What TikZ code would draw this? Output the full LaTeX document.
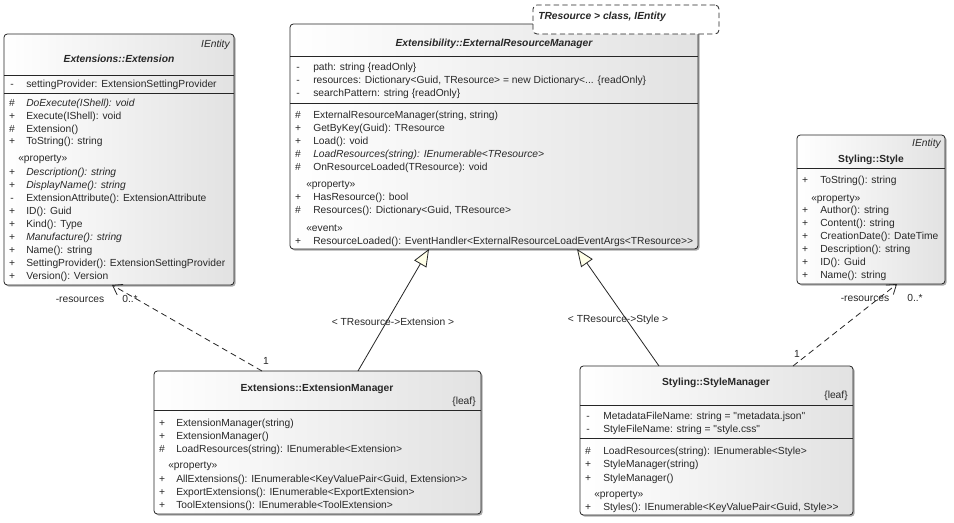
\documentclass[tikz,border=0pt]{standalone}
\usepackage{fontspec}
\setmainfont{Liberation Sans}[Ligatures=TeXOff]
\usetikzlibrary{arrows.meta,calc,shadows}
\definecolor{ivory}{RGB}{255,255,232}
\definecolor{boxgray}{RGB}{226,226,226}
\definecolor{ink}{RGB}{40,40,40}
\newcommand{\umlfont}{\fontsize{7.7}{9.2}\selectfont}
\begin{document}
\begin{tikzpicture}[x=0.75pt,y=-0.75pt,
  every node/.style={font=\umlfont, text=ink},
  cls/.style={draw=black!85, line width=0.6pt, rounded corners=2.5pt, left color=white, right color=boxgray,
    inner sep=0pt, outer sep=0pt, anchor=north west,
    drop shadow={shadow xshift=1.2pt, shadow yshift=-1.2pt, fill=black!55, opacity=0.6}},
  notebox/.style={draw=black!85, line width=0.6pt, rounded corners=3pt, fill=white, dash pattern=on 4pt off 2.5pt,
    inner sep=0pt, outer sep=0pt, anchor=north west},
  txt/.style={anchor=west, inner sep=0pt, text height=6pt, text depth=0pt},
  rtxt/.style={anchor=east, inner sep=0pt, text height=6pt, text depth=0pt},
  sym/.style={anchor=center, inner sep=0pt, text height=6pt, text depth=0pt},
  ttl/.style={anchor=center, inner sep=0pt, text height=6pt, text depth=0pt, font=\umlfont\bfseries},
  lbl/.style={anchor=center, inner sep=0pt, text height=6pt, text depth=0pt},
  sepline/.style={draw=black!85, line width=0.6pt},
  gen/.style={draw=black!85, line width=0.6pt, -{Triangle[length=13pt,width=10.5pt,fill=ivory]}},
  assoc/.style={draw=black!85, line width=0.6pt, dash pattern=on 4.5pt off 3pt, -{Straight Barb[length=6.5pt,width=9pt]}}
]
\fill[white] (0,0) rectangle (954,522);
\path[use as bounding box] (0,0) rectangle (954,522);

% ---------------- Extensions::Extension
\node[cls, minimum width=172.5pt, minimum height=188.25pt] (ext) at (4,34) {};
\node[rtxt] (ext-st) at (230,43) {\itshape IEntity};
\node[ttl] (ext-ti) at (119,58) {\itshape Extensions::Extension};
\draw[sepline] ($(ext.north west)+(0,41)$) -- ($(ext.north east)+(0,41)$);
\draw[sepline] ($(ext.north west)+(0,59)$) -- ($(ext.north east)+(0,59)$);
\node[txt] (ext-p) at (18,157) {«property»};
\foreach \s/\t/\y [count=\i] in {
  -/{settingProvider: ExtensionSettingProvider}/83,
  \#/{\textit{DoExecute(IShell): void}}/102,
  +/{Execute(IShell): void}/115,
  \#/{Extension()}/128,
  +/{ToString(): string}/140,
  +/{\textit{Description(): string}}/171,
  +/{\textit{DisplayName(): string}}/184,
  -/{ExtensionAttribute(): ExtensionAttribute}/197,
  +/{ID(): Guid}/210,
  +/{Kind(): Type}/223,
  +/{\textit{Manufacture(): string}}/236,
  +/{Name(): string}/249,
  +/{SettingProvider(): ExtensionSettingProvider}/262,
  +/{Version(): Version}/275}
{
  \node[sym] (ext-s\i) at (12,\y) {\s};
  \node[txt] (ext-t\i) at (26,\y) {\t};
}

% ---------------- Extensibility::ExternalResourceManager
\node[cls, minimum width=306pt, minimum height=168.75pt] (erm) at (290,24) {};
\node[ttl] (erm-ti) at (494,42) {\itshape Extensibility::ExternalResourceManager};
\draw[sepline] ($(erm.north west)+(0,32)$) -- ($(erm.north east)+(0,32)$);
\draw[sepline] ($(erm.north west)+(0,79)$) -- ($(erm.north east)+(0,79)$);
\node[txt] (erm-p) at (306,183) {«property»};
\node[txt] (erm-e) at (306,227) {«event»};
\foreach \s/\t/\y [count=\i] in {
  -/{path: string \{readOnly\}}/66,
  -/{resources: Dictionary<Guid, TResource> = new Dictionary<... \{readOnly\}}/79,
  -/{searchPattern: string \{readOnly\}}/92,
  \#/{ExternalResourceManager(string, string)}/114,
  +/{GetByKey(Guid): TResource}/127,
  +/{Load(): void}/140,
  \#/{\textit{LoadResources(string): IEnumerable<TResource>}}/153,
  \#/{OnResourceLoaded(TResource): void}/166,
  +/{HasResource(): bool}/196,
  \#/{Resources(): Dictionary<Guid, TResource>}/209,
  +/{ResourceLoaded(): EventHandler<ExternalResourceLoadEventArgs<TResource>>}/240}
{
  \node[sym] (erm-s\i) at (298,\y) {\s};
  \node[txt] (erm-t\i) at (313,\y) {\t};
}

% ---------------- template note
\node[notebox, minimum width=139.5pt, minimum height=21.75pt] (note) at (533,5) {};
\node[txt] (note-t) at (538,15) {\bfseries\itshape TResource > class, IEntity};

% ---------------- Styling::Style
\node[cls, minimum width=111pt, minimum height=111.75pt] (sty) at (797,135) {};
\node[rtxt] (sty-st) at (941,142) {\itshape IEntity};
\node[ttl] (sty-ti) at (871,158) {Styling::Style};
\draw[sepline] ($(sty.north west)+(0,33)$) -- ($(sty.north east)+(0,33)$);
\node[txt] (sty-p) at (811,197) {«property»};
\foreach \s/\t/\y [count=\i] in {
  +/{ToString(): string}/179,
  +/{Author(): string}/209,
  +/{Content(): string}/222,
  +/{CreationDate(): DateTime}/235,
  +/{Description(): string}/248,
  +/{ID(): Guid}/261,
  +/{Name(): string}/274}
{
  \node[sym] (sty-s\i) at (805,\y) {\s};
  \node[txt] (sty-t\i) at (820,\y) {\t};
}

% ---------------- Extensions::ExtensionManager
\node[cls, minimum width=245.25pt, minimum height=107.25pt] (em) at (154,371) {};
\node[ttl] (em-ti) at (317,387) {Extensions::ExtensionManager};
\node[rtxt] (em-leaf) at (476,400) {\{leaf\}};
\draw[sepline] ($(em.north west)+(0,39)$) -- ($(em.north east)+(0,39)$);
\node[txt] (em-p) at (168,464) {«property»};
\foreach \s/\t/\y [count=\i] in {
  +/{ExtensionManager(string)}/422,
  +/{ExtensionManager()}/435,
  \#/{LoadResources(string): IEnumerable<Extension>}/448,
  +/{AllExtensions(): IEnumerable<KeyValuePair<Guid, Extension>>}/478,
  +/{ExportExtensions(): IEnumerable<ExportExtension>}/491,
  +/{ToolExtensions(): IEnumerable<ToolExtension>}/504}
{
  \node[sym] (em-s\i) at (162,\y) {\s};
  \node[txt] (em-t\i) at (176,\y) {\t};
}

% ---------------- Styling::StyleManager
\node[cls, minimum width=204.75pt, minimum height=111.75pt] (sm) at (580,366) {};
\node[ttl] (sm-ti) at (716,381) {Styling::StyleManager};
\node[rtxt] (sm-leaf) at (848,394) {\{leaf\}};
\draw[sepline] ($(sm.north west)+(0,39)$) -- ($(sm.north east)+(0,39)$);
\draw[sepline] ($(sm.north west)+(0,72)$) -- ($(sm.north east)+(0,72)$);
\node[txt] (sm-p) at (594,493) {«property»};
\foreach \s/\t/\y [count=\i] in {
  -/{MetadataFileName: string = "metadata.json"}/415,
  -/{StyleFileName: string = "style.css"}/428,
  \#/{LoadResources(string): IEnumerable<Style>}/450,
  +/{StyleManager(string)}/463,
  +/{StyleManager()}/477,
  +/{Styles(): IEnumerable<KeyValuePair<Guid, Style>>}/506}
{
  \node[sym] (sm-s\i) at (588,\y) {\s};
  \node[txt] (sm-t\i) at (603,\y) {\t};
}

% ---------------- connectors
\draw[gen] ($(em.north west)+(204,0)$) -- ($(erm.south west)+(139,0)$);
\draw[gen] ($(sm.north west)+(79,0)$) -- ($(erm.south west)+(287,0)$);
\draw[assoc] ($(em.north west)+(108,0)$) -- ($(ext.south west)+(108,0)$);
\draw[assoc] ($(sm.north west)+(213,0)$) -- ($(sty.south west)+(100,0)$);

\node[lbl] (g1) at (393,321) {< TResource->Extension >};
\node[lbl] (g2) at (618,318) {< TResource->Style >};
\node[lbl] (a1r) at (80,298) {-resources};
\node[lbl] (a1m) at (130,298) {0..*};
\node[lbl] (a1o) at (266,360) {1};
\node[lbl] (a2r) at (865,297) {-resources};
\node[lbl] (a2m) at (915,297) {0..*};
\node[lbl] (a2o) at (797,353) {1};
\end{tikzpicture}
\end{document}
